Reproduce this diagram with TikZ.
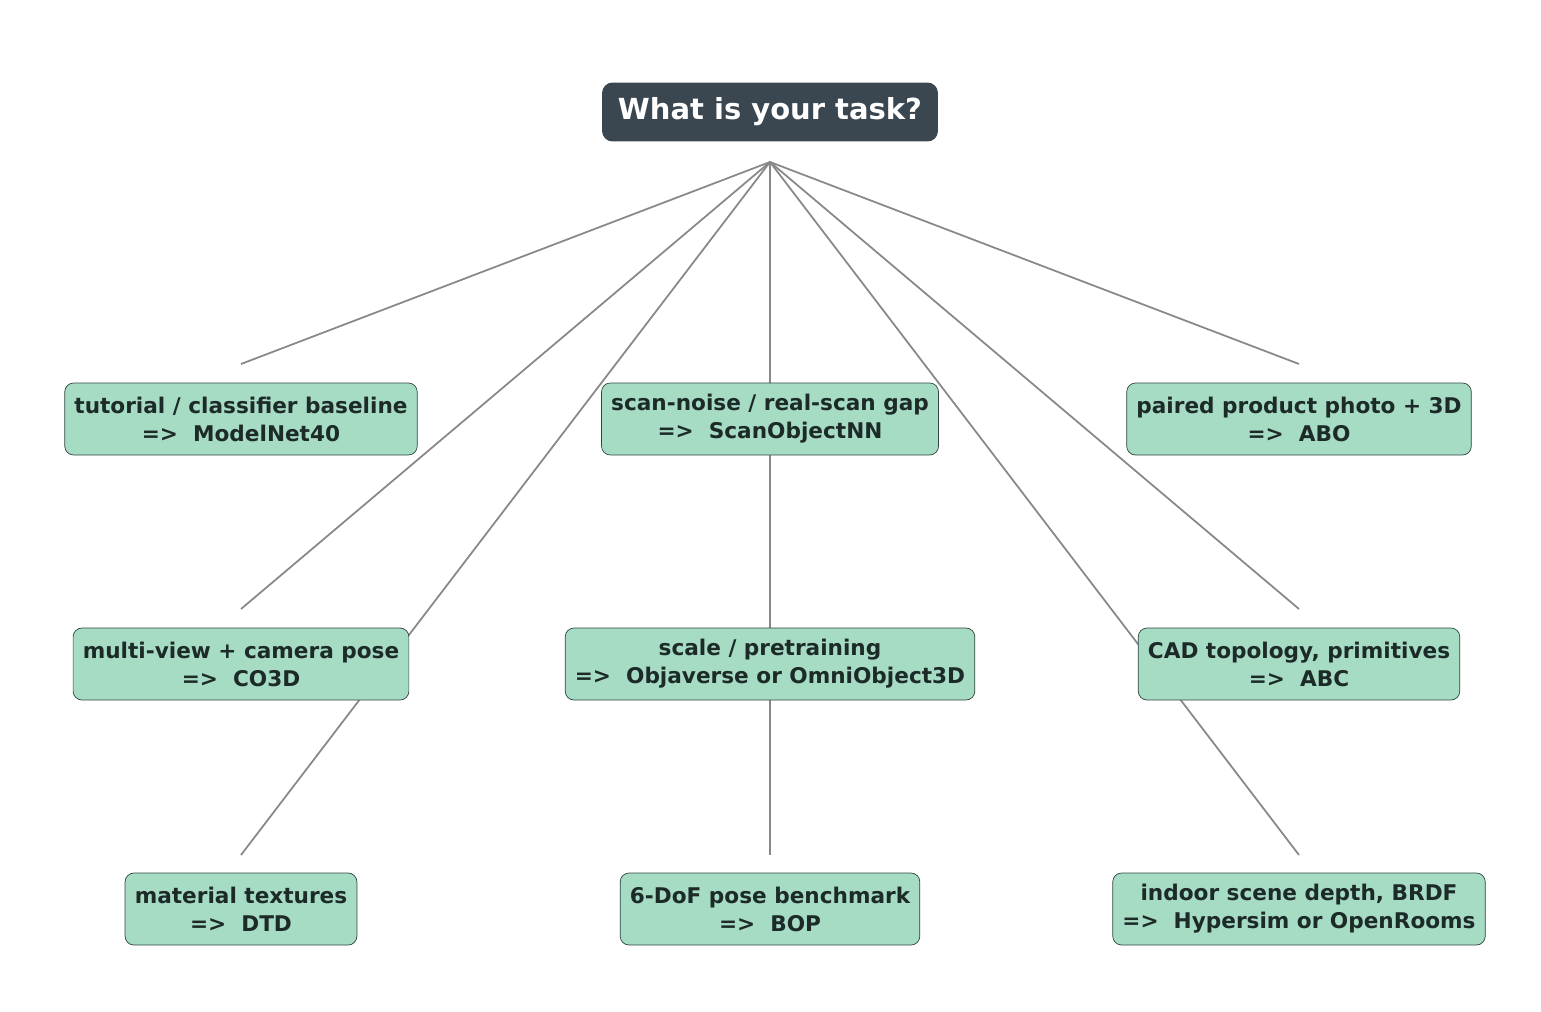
\documentclass[tikz,border=0pt]{standalone}
\usepackage{fontspec}
\setmainfont{DejaVu Sans}
\usetikzlibrary{backgrounds}
\definecolor{leaf}{HTML}{A6DBC4}
\definecolor{leafline}{HTML}{2F4540}
\definecolor{leaftext}{HTML}{1C2A28}
\definecolor{rootfill}{HTML}{3B4750}
\definecolor{edge}{HTML}{888888}
\tikzset{
  task/.style={draw=leafline,fill=leaf,rounded corners=5pt,inner xsep=5.5pt,
    minimum height=1.44cm,align=center,font=\fontsize{12.3}{16}\selectfont\bfseries,text=leaftext},
  root/.style={fill=rootfill,rounded corners=6pt,minimum width=6.72cm,minimum height=1.18cm,
    font=\fontsize{16.5}{19}\selectfont\bfseries,text=white},
  link/.style={draw=edge,line width=1pt}
}
\begin{document}
\begin{tikzpicture}[x=0.02cm,y=-0.02cm]
\useasboundingbox (0,0) rectangle (1541,1011);
% question
\node[root] (q) at (770,112) {What is your task?};
\coordinate (hub) at (770,162);
% answers
\node[task] (t1) at (241,419) {tutorial / classifier baseline\\=>\ \ ModelNet40};
\node[task] (t2) at (770,419) {scan-noise / real-scan gap\\=>\ \ ScanObjectNN};
\node[task] (t3) at (1299,419) {paired product photo + 3D\\=>\ \ ABO};
\node[task] (t4) at (241,664) {multi-view + camera pose\\=>\ \ CO3D};
\node[task] (t5) at (770,664) {scale / pretraining\\=>\ \ Objaverse or OmniObject3D};
\node[task] (t6) at (1299,664) {CAD topology, primitives\\=>\ \ ABC};
\node[task] (t7) at (241,909) {material textures\\=>\ \ DTD};
\node[task] (t8) at (770,909) {6-DoF pose benchmark\\=>\ \ BOP};
\node[task] (t9) at (1299,909) {indoor scene depth, BRDF\\=>\ \ Hypersim or OpenRooms};
% links
\begin{scope}[on background layer]
\foreach \n/\x/\y in {1/241/364,2/770/364,3/1299/364,4/241/609,5/770/609,6/1299/609,7/241/855,8/770/855,9/1299/855}{
  \coordinate (e\n) at (\x,\y);
  \draw[link] (hub) -- (e\n);
}
\end{scope}
\end{tikzpicture}
\end{document}
